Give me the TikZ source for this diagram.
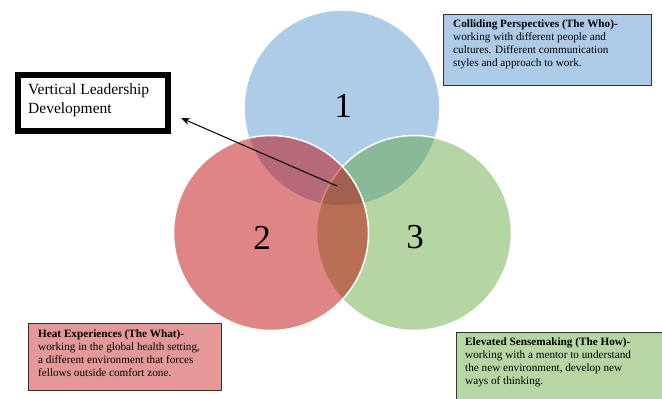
\documentclass[tikz,border=0pt]{standalone}
\usepackage{fontspec}
\setmainfont{Liberation Serif}
\usetikzlibrary{arrows.meta}
\definecolor{cblue}{RGB}{174,203,232}
\definecolor{cred}{RGB}{190,0,0}
\definecolor{cgreen}{RGB}{98,166,60}
\definecolor{bblue}{RGB}{173,203,232}
\definecolor{bred}{RGB}{228,152,152}
\definecolor{bgreen}{RGB}{183,214,164}
\definecolor{bborder}{RGB}{50,50,50}
\tikzset{
  venn/.style={draw=white, line width=1.5pt},
  infobox/.style={draw=bborder, line width=1.3pt, rectangle, inner sep=0pt, anchor=north west},
  infotext/.style={anchor=north west, inner sep=0pt, align=left, font=\fontsize{11.2}{12.7}\selectfont},
  bignum/.style={font=\fontsize{35}{35}\selectfont},
}
\begin{document}
\begin{tikzpicture}[x=1pt,y=-1pt]
\useasboundingbox (0,0) rectangle (662,399);
% circles
\path[venn, fill=cblue] (342,108) circle (98);
\path[venn, fill=cgreen, fill opacity=0.47] (414,233) circle (97.5);
\path[venn, fill=cred, fill opacity=0.48] (271,233) circle (97.5);
\node[bignum] (n1) at (343,106) {1};
\node[bignum] (n2) at (262,238) {2};
\node[bignum] (n3) at (415,237) {3};
% vertical leadership box
\node[draw=black, line width=6pt, rectangle, anchor=north west, minimum width=150pt, minimum height=56pt, inner sep=0pt] (vbox) at (15,72) {};
\node[anchor=north west, inner sep=0pt, align=left, font=\fontsize{15.5}{18.5}\selectfont] (vtext) at (28,84) {Vertical Leadership\\Development};
% arrow
\coordinate (atail) at (337,186);
\coordinate (ahead) at (181,118);
\draw[line width=1pt, -{Stealth[length=9pt,width=7pt]}] (atail) -- (ahead);
% colliding box
\node[infobox, fill=bblue, minimum width=208pt, minimum height=71pt] (cbox) at (443,14) {};
\node[infotext] (ctext) at (453,20) {\textbf{Colliding Perspectives (The Who)-}\\working with different people and\\cultures. Different communication\\styles and approach to work.};
% heat box
\node[infobox, fill=bred, minimum width=193pt, minimum height=67pt] (hbox) at (28,323) {};
\node[infotext] (htext) at (38,330) {\textbf{Heat Experiences (The What)-}\\working in the global health setting,\\a different environment that forces\\fellows outside comfort zone.};
% elevated box
\node[infobox, fill=bgreen, minimum width=212pt, minimum height=75pt] (ebox) at (456,332) {};
\node[infotext] (etext) at (465,338) {\textbf{Elevated Sensemaking (The How)-}\\working with a mentor to understand\\the new environment, develop new\\ways of thinking.};
\end{tikzpicture}
\end{document}
